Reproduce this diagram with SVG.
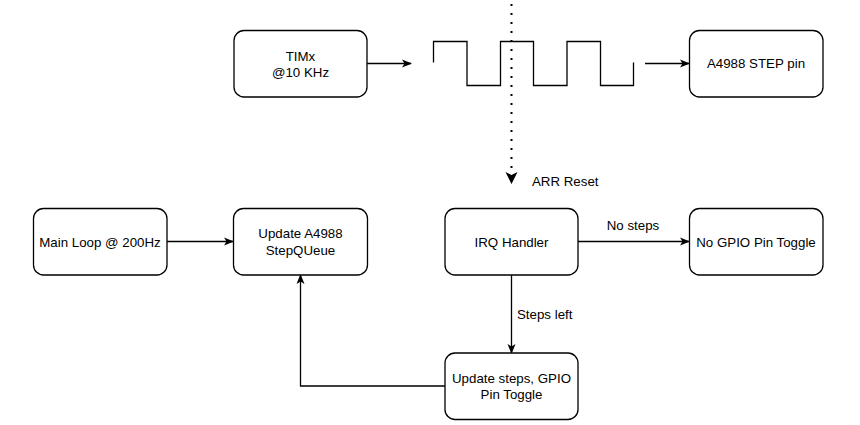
<svg xmlns="http://www.w3.org/2000/svg" width="860" height="425" viewBox="0 0 860 425">
<defs>
<style>
.box{fill:#fff;stroke:#000;stroke-width:1.3}
.t{font-family:"Liberation Sans",Arial,sans-serif;font-size:13.3px;fill:#000;text-anchor:middle}
.tl{font-family:"Liberation Sans",Arial,sans-serif;font-size:13.3px;fill:#000}
.c{fill:none;stroke:#000;stroke-width:1.3}
</style>
<marker id="ah" viewBox="0 0 10 10" refX="9" refY="5" markerWidth="10" markerHeight="10" markerUnits="userSpaceOnUse" orient="auto">
<path d="M0,1 L10,5 L0,9 L2.5,5 Z" fill="#000"/>
</marker>
</defs>
<rect width="860" height="425" fill="#fff"/>
<g id="connectors">
<line class="c" x1="367" y1="63.5" x2="411" y2="63.5" marker-end="url(#ah)"/>
<line class="c" x1="645" y1="63.5" x2="689" y2="63.5" marker-end="url(#ah)"/>
<line x1="511.5" y1="4" x2="511.5" y2="182" stroke="#000" stroke-width="2" stroke-dasharray="2 7" fill="none"/>
<path d="M505.5,172 L511.5,184 L517.5,172 L511.5,175 Z" fill="#000"/>
<line class="c" x1="167" y1="241.5" x2="233" y2="241.5" marker-end="url(#ah)"/>
<line class="c" x1="578" y1="241.5" x2="689" y2="241.5" marker-end="url(#ah)"/>
<line class="c" x1="511.5" y1="275" x2="511.5" y2="353" marker-end="url(#ah)"/>
<polyline class="c" points="445,386 300.5,386 300.5,275" marker-end="url(#ah)"/>
<text class="t" x="633" y="229.5">No steps</text>
<text class="tl" x="517" y="318.5">Steps left</text>
<text class="tl" x="532" y="185.5">ARR Reset</text>
</g>
<g id="wave">
<polyline fill="none" stroke="#000" stroke-width="1.3" points="433.5,62.5 433.5,41.5 467,41.5 467,85.5 500.5,85.5 500.5,41.5 533.5,41.5 533.5,85.5 567,85.5 567,41.5 600.5,41.5 600.5,85.5 633.5,85.5 633.5,62.5"/>
</g>
<g id="timx">
<rect class="box" x="234" y="30.5" width="133" height="66.5" rx="10"/>
<text class="t" x="300.5" y="60.5">TIMx</text>
<text class="t" x="300.5" y="76.5">@10 KHz</text>
</g>
<g id="step-pin">
<rect class="box" x="689.5" y="30.5" width="133.5" height="66.5" rx="10"/>
<text class="t" x="756" y="68">A4988 STEP pin</text>
</g>
<g id="main-loop">
<rect class="box" x="33.5" y="208.5" width="133.5" height="66.5" rx="10"/>
<text class="t" x="100" y="246.5">Main Loop @ 200Hz</text>
</g>
<g id="update-queue">
<rect class="box" x="233.5" y="208.5" width="134" height="66.5" rx="10"/>
<text class="t" x="300.5" y="237.5">Update A4988</text>
<text class="t" x="300.5" y="254.5">StepQUeue</text>
</g>
<g id="irq">
<rect class="box" x="445" y="208.5" width="133" height="66.5" rx="10"/>
<text class="t" x="511.5" y="246.5">IRQ Handler</text>
</g>
<g id="no-gpio">
<rect class="box" x="689.5" y="208.5" width="133.5" height="66.5" rx="10"/>
<text class="t" x="756" y="246.5">No GPIO Pin Toggle</text>
</g>
<g id="update-steps">
<rect class="box" x="445" y="353" width="133" height="66.5" rx="10"/>
<text class="t" x="511.5" y="382.5">Update steps, GPIO</text>
<text class="t" x="511.5" y="398.5">Pin Toggle</text>
</g>
</svg>
